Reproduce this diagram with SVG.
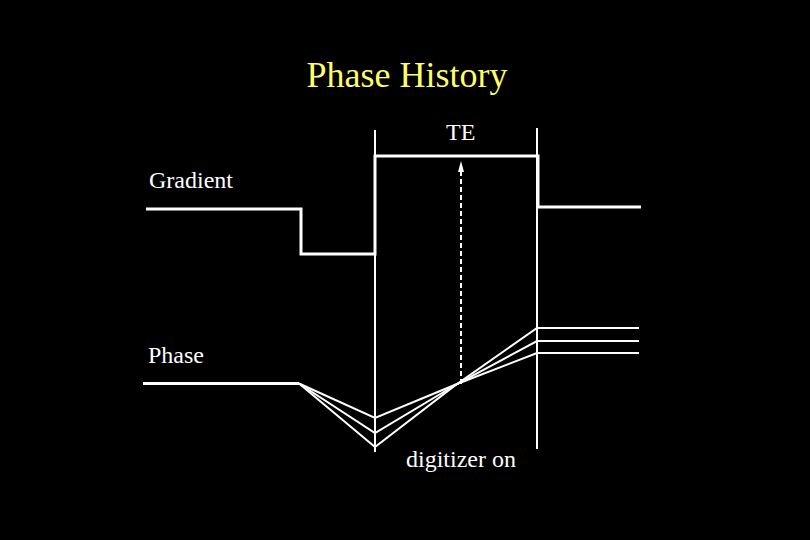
<svg xmlns="http://www.w3.org/2000/svg" width="810" height="540" viewBox="0 0 810 540">
<style>
.t{font-family:"Liberation Serif","Times New Roman",serif;fill:#fff;font-size:24px}
.ttl{font-family:"Liberation Serif","Times New Roman",serif;fill:#ffff66;font-size:36px}
.w{stroke:#fff;fill:none;stroke-width:3}
.thin{stroke:#fff;fill:none;stroke-width:2}
</style>
<defs>
<marker id="ah" markerWidth="6" markerHeight="10" refX="3" refY="1" orient="auto-start-reverse" markerUnits="userSpaceOnUse" viewBox="0 0 6 10">
<path d="M0,10 L3,0 L6,10 Z" fill="#fff"/>
</marker>
</defs>
<rect width="810" height="540" fill="#000"/>
<g id="title"><text class="ttl" x="407" y="87" text-anchor="middle">Phase History</text></g>
<g id="labels">
<text class="t" x="446" y="140">TE</text>
<text class="t" x="149" y="188">Gradient</text>
<text class="t" x="148" y="363">Phase</text>
<text class="t" x="406" y="467">digitizer on</text>
</g>
<g id="gradient">
<polyline class="w" points="146,209 301,209 301,254 375,254 375,156 538,156 538,207 641,207"/>
</g>
<g id="markers">
<line class="thin" x1="375" y1="130" x2="375" y2="452"/>
<line class="thin" x1="537" y1="128" x2="537" y2="449"/>
</g>
<g id="phase">
<line class="w" x1="143" y1="383.5" x2="299" y2="383.5"/>
<polyline class="thin" points="299,383.5 375,418 457,384 537,328 639,328"/>
<polyline class="thin" points="299,383.5 375,433 457,384 537,341 639,341"/>
<polyline class="thin" points="299,383.5 375,447 457,384 537,353 639,353"/>
</g>
<g id="connectors">
<line x1="461" y1="384" x2="461" y2="172" stroke="#fff" stroke-width="2" stroke-dasharray="5,3"/>
<path d="M458,172 L461,161 L464,172 Z" fill="#fff"/>
</g>
</svg>
